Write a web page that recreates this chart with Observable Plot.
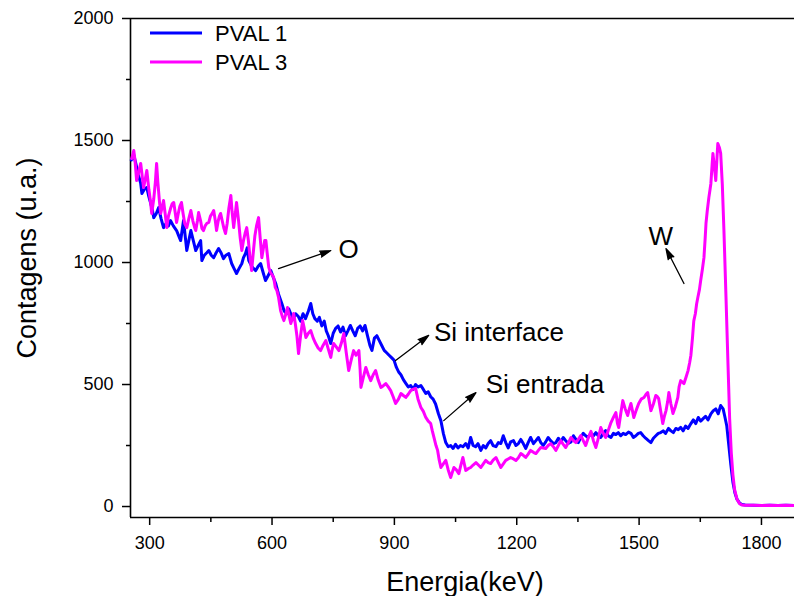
<!DOCTYPE html>
<html>
<head>
<meta charset="utf-8">
<script src="https://cdn.jsdelivr.net/npm/d3@7"></script>
<script src="https://cdn.jsdelivr.net/npm/@observablehq/plot@0.6"></script>
<style>
  html, body { margin: 0; padding: 0; background: #fff; }
  #chart { width: 794px; height: 596px; }
</style>
</head>
<body>
<div id="chart"></div>
<script>
// ---- Data ----
const seriesNames = ["PVAL 1", "PVAL 3"];
const seriesColors = ["#0000ff", "#ff00ff"];

const pval1Energy = [255,261,266,272,278,281,287,293,298,302,306,310,316,322,328,334,340,346,351,358,366,371,376,383,387,391,396,401,407,413,419,425,428,434,440,445,451,457,463,469,475,481,487,494,501,507,513,519,526,530,535,539,543,550,555,560,566,572,578,584,590,597,603,609,616,624,630,636,641,646,652,658,664,670,676,682,689,695,700,705,711,716,722,728,733,738,744,750,756,762,768,774,780,786,792,798,804,810,816,822,828,834,840,845,851,857,863,869,875,881,887,893,899,905,911,916,922,928,934,940,946,952,958,965,971,977,983,989,995,1001,1008,1014,1020,1026,1032,1038,1044,1050,1056,1062,1068,1075,1081,1087,1093,1099,1105,1112,1118,1124,1130,1136,1142,1149,1155,1161,1167,1173,1179,1185,1192,1198,1204,1210,1216,1222,1228,1234,1241,1247,1253,1259,1265,1271,1277,1283,1290,1296,1302,1308,1314,1320,1326,1333,1339,1345,1351,1357,1363,1369,1375,1382,1388,1394,1400,1406,1412,1418,1424,1431,1437,1443,1449,1455,1461,1467,1474,1480,1486,1492,1498,1504,1510,1516,1523,1529,1535,1541,1547,1553,1559,1565,1572,1578,1584,1590,1596,1602,1608,1614,1620,1627,1633,1639,1645,1651,1657,1663,1669,1676,1682,1688,1694,1700,1706,1710,1715,1720,1725,1730,1735,1740,1746,1752,1760,1780,1800,1820,1840,1860,1880];
const pval1Counts = [1420,1440,1406,1360,1324,1283,1300,1307,1270,1246,1220,1184,1200,1225,1180,1143,1160,1150,1172,1150,1131,1110,1090,1172,1110,1049,1090,1131,1090,1049,1070,1090,1008,1030,1040,1049,1030,1020,1040,1057,1040,1016,1030,1037,996,975,955,975,996,1020,1037,1060,1008,985,975,967,985,996,960,926,945,967,940,914,870,832,800,790,810,790,770,790,780,760,790,770,800,832,790,770,760,775,740,760,720,700,668,710,730,740,715,735,700,720,742,720,700,730,740,720,742,700,660,640,690,700,680,660,640,630,620,610,600,570,550,540,520,505,490,496,480,500,490,496,480,463,470,450,440,420,380,352,300,262,245,250,238,255,240,250,245,258,240,283,250,245,258,230,250,240,258,270,250,245,262,258,290,262,240,265,270,250,258,275,258,238,262,283,258,270,283,262,250,265,283,270,258,262,280,265,283,270,258,265,290,275,262,283,300,290,283,300,290,303,290,283,300,311,290,283,300,295,303,290,300,295,305,300,283,290,300,303,290,280,270,262,280,290,300,303,310,300,320,310,303,320,315,324,310,330,320,340,355,340,365,350,360,370,355,380,393,400,380,414,400,370,330,250,170,100,55,30,15,8,6,5,4,5,4,5,4];

const pval3Energy = [256,261,264,268,273,278,282,285,289,293,298,302,305,310,314,317,320,324,327,331,334,338,342,346,351,355,359,363,366,370,374,378,382,386,391,396,401,406,410,413,417,420,425,428,432,436,440,445,449,453,457,461,464,468,471,474,478,482,486,490,494,499,502,506,510,513,518,522,526,530,534,538,542,546,550,554,558,562,567,571,575,579,582,585,588,592,596,600,604,608,612,616,621,625,629,634,638,642,646,650,653,657,661,665,670,675,679,683,689,695,701,707,713,719,725,732,738,744,747,751,757,764,770,776,782,788,794,800,806,813,816,818,824,830,836,842,848,854,860,867,873,879,885,891,897,903,910,916,922,928,934,940,945,952,958,965,971,977,983,989,993,997,1002,1006,1010,1014,1020,1026,1032,1038,1042,1046,1052,1058,1063,1068,1072,1075,1081,1087,1093,1100,1106,1112,1118,1124,1130,1136,1142,1149,1155,1161,1167,1173,1179,1185,1192,1198,1204,1210,1216,1222,1228,1234,1241,1247,1253,1259,1265,1271,1277,1283,1290,1296,1302,1308,1314,1320,1326,1333,1339,1345,1351,1357,1363,1369,1375,1382,1388,1394,1400,1406,1412,1418,1424,1431,1437,1443,1447,1450,1455,1460,1466,1472,1476,1480,1484,1487,1493,1499,1505,1512,1517,1521,1525,1529,1535,1541,1545,1548,1553,1558,1562,1566,1570,1573,1578,1583,1589,1595,1598,1602,1606,1610,1615,1620,1624,1627,1631,1634,1638,1641,1644,1648,1651,1655,1659,1662,1664,1667,1671,1674,1676,1679,1681,1684,1688,1691,1693,1697,1700,1704,1708,1713,1718,1722,1726,1730,1734,1740,1746,1752,1760,1780,1800,1820,1840,1860,1880];
const pval3Counts = [1426,1459,1420,1336,1370,1406,1350,1307,1340,1377,1300,1250,1201,1260,1330,1406,1330,1250,1201,1230,1254,1200,1143,1190,1220,1240,1246,1200,1164,1200,1230,1246,1200,1160,1143,1180,1213,1170,1145,1131,1170,1205,1170,1140,1131,1150,1160,1164,1190,1200,1213,1170,1131,1170,1190,1201,1170,1140,1119,1160,1220,1275,1210,1143,1200,1246,1170,1100,1049,1090,1120,1143,1090,1020,967,1040,1110,1150,1184,1100,1020,1060,1090,1090,1040,980,960,950,939,898,885,857,803,780,762,790,816,780,750,770,791,750,700,627,700,762,730,693,710,721,690,668,650,639,660,680,645,611,640,668,655,639,670,709,630,557,600,639,620,639,560,488,530,570,540,516,540,557,520,488,495,504,490,475,450,422,440,463,455,447,460,475,480,484,440,406,390,365,350,340,310,283,250,230,190,160,175,189,150,119,140,160,150,135,170,201,170,148,155,160,170,180,170,160,175,189,180,176,190,201,180,160,175,189,195,201,195,189,200,217,210,201,215,230,222,217,230,242,240,238,250,258,245,230,250,270,255,242,260,283,270,262,275,291,270,250,280,308,270,242,280,324,300,283,310,344,365,385,340,324,380,434,400,373,400,422,390,365,395,422,440,447,460,467,430,393,420,455,450,442,390,340,370,393,430,467,420,381,410,447,490,516,510,504,530,557,590,620,693,760,791,830,857,890,926,970,1020,1100,1160,1210,1266,1300,1324,1400,1447,1400,1336,1430,1488,1470,1447,1320,1130,860,580,360,220,130,70,30,12,6,5,5,4,5,4,5,4];

const xDomain = [253, 1881];
const yDomain = [-45, 2000];
const xTicks = [300, 600, 900, 1200, 1500, 1800];
const xMinorTicks = [450, 750, 1050, 1350, 1650];
const yTicks = [0, 500, 1000, 1500, 2000];
const yMinorTicks = [250, 750, 1250, 1750];
const xLabel = "Energia(keV)";
const yLabel = "Contagens (u.a.)";

// annotations: label text, label position, arrow tail, arrow head (data units)
const annLabels = ["O", "Si interface", "Si entrada", "W"];
const annTextX = [788, 997, 1124, 1553];
const annTextY = [1053, 713, 500, 1107];
const annAnchor = ["middle", "start", "start", "middle"];
const annArrowX1 = [616, 903, 1021, 1610];
const annArrowY1 = [975, 598, 352, 914];
const annArrowX2 = [744, 984, 1100, 1566];
const annArrowY2 = [1049, 701, 467, 1057];

// ---- build tables ----
const rows = [];
pval1Energy.forEach((e, i) => rows.push({series: seriesNames[0], e, c: pval1Counts[i]}));
pval3Energy.forEach((e, i) => rows.push({series: seriesNames[1], e, c: pval3Counts[i]}));
const ann = annLabels.map((t, i) => ({
  t, x: annTextX[i], y: annTextY[i], anchor: annAnchor[i],
  x1: annArrowX1[i], y1: annArrowY1[i], x2: annArrowX2[i], y2: annArrowY2[i]
}));

const font = "'Liberation Sans', Arial, Helvetica, sans-serif";

const chart = Plot.plot({
  width: 794,
  height: 596,
  marginLeft: 130,
  marginRight: 0,
  marginTop: 18,
  marginBottom: 79,
  style: {fontFamily: font, color: "#000", background: "#fff", overflow: "visible"},
  x: {domain: xDomain},
  y: {domain: yDomain},
  color: {domain: seriesNames, range: seriesColors},
  marks: [
    Plot.axisX({ticks: xTicks, tickSize: 8, tickPadding: 11, fontSize: 18, tickFormat: d3.format("d"), label: null, strokeWidth: 1.5}),
    Plot.axisX({ticks: xMinorTicks, tickSize: 5, tickFormat: () => "", label: null, strokeWidth: 1.5}),
    Plot.axisY({ticks: yTicks, tickSize: 8, tickPadding: 9, fontSize: 18, tickFormat: d3.format("d"), label: null, strokeWidth: 1.5}),
    Plot.axisY({ticks: yMinorTicks, tickSize: 4, tickFormat: () => "", label: null, strokeWidth: 1.5}),
    Plot.ruleX([xDomain[0]], {stroke: "#000", strokeWidth: 1.6}),
    Plot.ruleY([yDomain[0]], {stroke: "#000", strokeWidth: 1.6}),
    Plot.ruleY([yDomain[1]], {stroke: "#000", strokeWidth: 1.6}),
    Plot.line(rows, {x: "e", y: "c", z: "series", stroke: "series", strokeWidth: 3, strokeLinejoin: "round", curve: "linear"}),
    Plot.arrow(ann, {x1: "x1", y1: "y1", x2: "x2", y2: "y2", stroke: "#000", strokeWidth: 1.3, headLength: 13, headAngle: 32}),
    Plot.text(ann.filter(d => d.anchor === "middle"), {x: "x", y: "y", text: "t", textAnchor: "middle", fontSize: 26, fill: "#000"}),
    Plot.text(ann.filter(d => d.anchor === "start"), {x: "x", y: "y", text: "t", textAnchor: "start", fontSize: 26, fill: "#000"})
  ]
});

document.getElementById("chart").appendChild(chart);
const svg = d3.select(chart);

// fill arrow heads (closed subpath of the head becomes a filled triangle)
svg.selectAll("g[aria-label='arrow'] path").attr("fill", "#000");

// axis titles
svg.append("text")
  .attr("x", 465).attr("y", 591)
  .attr("text-anchor", "middle")
  .attr("font-family", font).attr("font-size", 27).attr("fill", "#000")
  .text(xLabel);
svg.append("text")
  .attr("transform", "translate(36,258) rotate(-90)")
  .attr("text-anchor", "middle")
  .attr("font-family", font).attr("font-size", 27).attr("fill", "#000")
  .text(yLabel);

// legend
const legend = svg.append("g").attr("text-anchor", "start");
seriesNames.forEach((name, i) => {
  const yy = 33 + i * 29;
  legend.append("line").attr("x1", 150).attr("x2", 202).attr("y1", yy).attr("y2", yy)
    .attr("stroke", seriesColors[i]).attr("stroke-width", 3);
  legend.append("text").attr("x", 215).attr("y", yy).attr("dy", "0.35em")
    .attr("text-anchor", "start")
    .attr("font-family", font).attr("font-size", 22).attr("fill", "#000").text(name);
});
</script>
</body>
</html>
